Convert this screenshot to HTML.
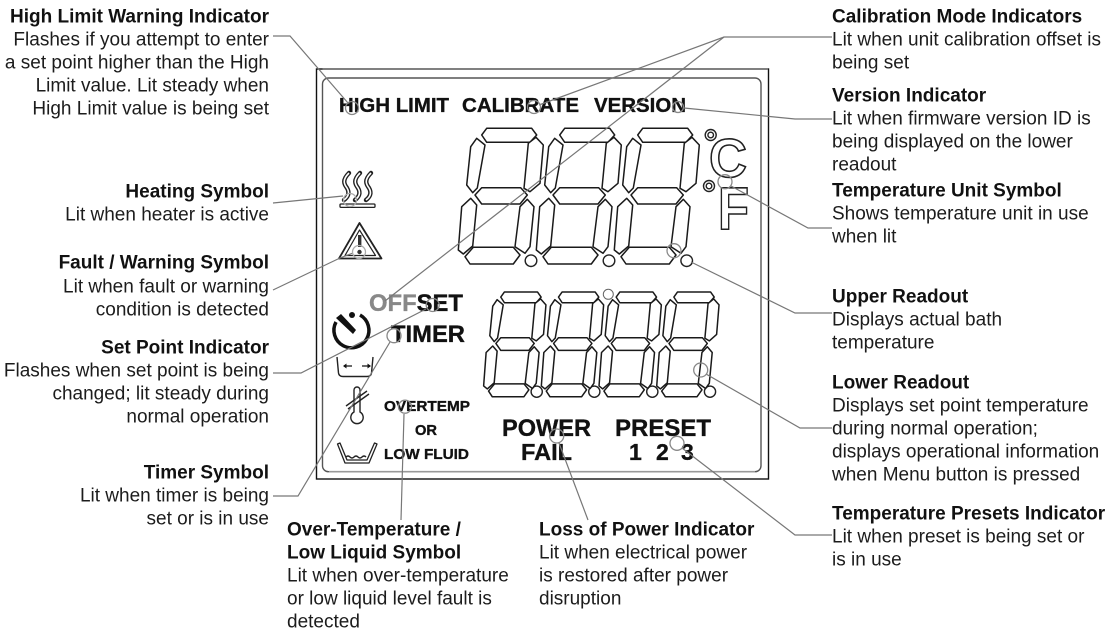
<!DOCTYPE html>
<html><head><meta charset="utf-8"><style>
html,body{margin:0;padding:0;background:#fff;width:1113px;height:633px;overflow:hidden}
svg{display:block}
.t{font:19px "Liberation Sans",Arial,sans-serif;fill:#1c1c1c}
.h{font:bold 19px "Liberation Sans",Arial,sans-serif;fill:#111}
.r{text-anchor:end}
.d{font-family:"Liberation Sans",Arial,sans-serif;font-weight:bold;fill:#111;stroke:#111;stroke-width:.35}
.seg polygon{fill:#fff;stroke:#1a1a1a;stroke-width:1.5;stroke-linejoin:round;vector-effect:non-scaling-stroke}
.l{fill:none;stroke:#777;stroke-width:1.2}
.c{fill:none;stroke:#888;stroke-width:1.3}
.i{fill:none;stroke:#222;stroke-width:1.4}
</style></head><body>
<svg width="1113" height="633" viewBox="0 0 1113 633" xmlns="http://www.w3.org/2000/svg">
<defs>
<g id="dg" class="seg">
<polygon points="481.7,135 486.7,128.3 531.7,128.3 536.7,135 530,142.3 486.7,142.3"/>
<polygon points="476.7,138.3 485,145 477.3,188 472.7,192.7 466.7,185 470.7,146.7"/>
<polygon points="536,137.3 543.3,145 540,183.3 530,191.7 524,188.3 528.3,143.3"/>
<polygon points="475,195 481.7,187.7 520.7,187.7 527.3,195 520,204 481.7,204"/>
<polygon points="470.7,198.3 476.7,205 472.7,246 463.3,254 458.3,250 461.7,206.7"/>
<polygon points="527.3,199.3 534,206.7 530,246.7 525,253.3 515,246.7 520,206.7"/>
<polygon points="465,256.7 473.3,247.3 513.3,247.3 520,255 513.3,264 470,264"/>
</g>
<path id="wave" d="M349 173c-7 7-5 11-2 15 3 5 1 9-3 12"/>
</defs>
<rect x="316.5" y="69" width="452" height="410" fill="none" stroke="#111" stroke-width="1.4"/>
<rect x="322.5" y="78" width="438.5" height="393.7" rx="6" fill="#fff" stroke="#555" stroke-width="1.4"/>
<path d="M322.5 69H768" stroke="#777" stroke-width="1.4"/>
<path d="M329 471.7H755" stroke="#999" stroke-width="1.6"/>

<!-- upper digits -->
<use href="#dg"/><use href="#dg" x="78"/><use href="#dg" x="156"/>
<g fill="#fff" stroke="#222" stroke-width="1.4">
<circle cx="531" cy="260.7" r="5.8"/><circle cx="609" cy="260.7" r="5.8"/><circle cx="686.7" cy="260.7" r="5.8"/>
<circle cx="536.7" cy="391.7" r="5.6"/><circle cx="594.3" cy="391.7" r="5.6"/><circle cx="652.3" cy="391.7" r="5.6"/><circle cx="710" cy="391.7" r="5.6"/>
<circle cx="710.7" cy="135" r="5.5"/><circle cx="710.7" cy="135" r="2.8"/>
<circle cx="709" cy="186" r="5.5"/><circle cx="709" cy="186" r="2.8"/>
</g>
<circle cx="608.3" cy="294.3" r="5" fill="#fff" stroke="#666" stroke-width="1"/>
<!-- lower digits -->
<g transform="translate(147.7 192.9) scale(.733 .772)"><use href="#dg"/></g>
<g transform="translate(205.4 192.9) scale(.733 .772)"><use href="#dg"/></g>
<g transform="translate(263.1 192.9) scale(.733 .772)"><use href="#dg"/></g>
<g transform="translate(320.8 192.9) scale(.733 .772)"><use href="#dg"/></g>

<!-- C F -->
<text x="709" y="177" font-family="Liberation Sans" font-weight="bold" font-size="55" fill="#fff" stroke="#222" stroke-width="1.6" textLength="38" lengthAdjust="spacingAndGlyphs">C</text>
<text x="718" y="229" font-family="Liberation Sans" font-weight="bold" font-size="60" fill="#fff" stroke="#222" stroke-width="1.6" textLength="31" lengthAdjust="spacingAndGlyphs">F</text>

<!-- display labels -->
<g class="d">
<text x="339" y="112" font-size="20" textLength="110" lengthAdjust="spacingAndGlyphs">HIGH LIMIT</text>
<text x="462" y="112" font-size="20" textLength="117" lengthAdjust="spacingAndGlyphs">CALIBRATE</text>
<text x="594" y="112" font-size="20" textLength="92" lengthAdjust="spacingAndGlyphs">VERSION</text>
<text x="369" y="311" font-size="24" textLength="94" lengthAdjust="spacingAndGlyphs"><tspan fill="#888" stroke="#888">OFF</tspan>SET</text>
<text x="391" y="342" font-size="24" textLength="74" lengthAdjust="spacingAndGlyphs">TIMER</text>
<text x="384" y="411" font-size="15" textLength="86" lengthAdjust="spacingAndGlyphs">OVERTEMP</text>
<text x="415" y="435" font-size="15" textLength="22" lengthAdjust="spacingAndGlyphs">OR</text>
<text x="384" y="459" font-size="15" textLength="85" lengthAdjust="spacingAndGlyphs">LOW FLUID</text>
<text x="502" y="436" font-size="24" textLength="89" lengthAdjust="spacingAndGlyphs">POWER</text>
<text x="521" y="460" font-size="23" textLength="51" lengthAdjust="spacingAndGlyphs">FAIL</text>
<text x="615" y="436" font-size="24" textLength="96" lengthAdjust="spacingAndGlyphs">PRESET</text>
<text x="629" y="460" font-size="23">1</text>
<text x="656" y="460" font-size="23">2</text>
<text x="681" y="460" font-size="23">3</text>
</g>

<!-- heat icon -->
<g fill="none" stroke="#222" stroke-width="4.4" stroke-linecap="round"><use href="#wave"/><use href="#wave" x="11"/><use href="#wave" x="22"/></g>
<g fill="none" stroke="#fff" stroke-width="1.6"><use href="#wave"/><use href="#wave" x="11"/><use href="#wave" x="22"/></g>
<rect x="340" y="204" width="35" height="3.4" rx="1" fill="#fff" stroke="#222" stroke-width="1.3"/>
<!-- triangle -->
<path d="M359.5 223L339 258.5H381.5Z" fill="#fff" stroke="#222" stroke-width="1.8" stroke-linejoin="round"/>
<path d="M359.5 230L345 255.5H375.5Z" fill="#fff" stroke="#222" stroke-width="1.2" stroke-linejoin="round"/>
<rect x="358" y="235" width="3.4" height="12" fill="#333"/>
<circle cx="359.5" cy="252" r="2.2" fill="#333"/>
<!-- timer icon -->
<path d="M360 315A17.5 17.5 0 1 1 336 322" fill="none" stroke="#111" stroke-width="3.5"/>
<path d="M336 318L341 314L356 330L353 334Z" fill="#111"/>
<circle cx="352" cy="315" r="3" fill="#111"/>
<!-- tub -->
<path d="M337 357L338.5 373Q339 376.5 343 376.5H367Q371 376.5 371.5 373L373 357" class="i" stroke-width="1.8"/>
<path d="M344 366h8M362 366h8" stroke="#111" stroke-width="1.2"/>
<path d="M343 366l3.5-2.5v5zM371 366l-3.5-2.5v5z" fill="#111"/>
<!-- thermometer -->
<path d="M354 390a3 3 0 0 1 6 0V412a6.2 6.2 0 1 1-6 0Z" fill="#fff" stroke="#222" stroke-width="1.4"/>
<path d="M346 406L367 391M348 409L369 394" stroke="#222" stroke-width="1.4"/>
<!-- bath -->
<path d="M337.5 444L345 463H369L377 444L374.5 443L367 460H347L340 443Z" fill="#fff" stroke="#222" stroke-width="1.3" stroke-linejoin="round"/>
<path d="M346 457q2-2 4 0t4 0 4 0 4 0 4 0" class="i" stroke-width="1.1"/>

<!-- leader lines -->
<g class="l">
<polyline points="273,36 290,36 348,103"/>
<polyline points="832,37 724,37 539,105"/>
<polyline points="724,37 385,301"/>
<polyline points="832,119 795,119 684,108"/>
<polyline points="273,203 343,196"/>
<polyline points="273,290 340,258 353,253"/>
<polyline points="273,373 301,373 426,309"/>
<polyline points="273,496 298,496 390,342"/>
<polyline points="401,520 404,414"/>
<polyline points="588,520 559,443"/>
<polyline points="832,535 795,535 682,448"/>
<polyline points="832,428 800,428 706,374"/>
<polyline points="832,313 795,313 691,262"/>
<polyline points="832,228 808,228 731,186"/>
</g>
<g class="c">
<circle cx="352" cy="108" r="6.5"/><circle cx="534" cy="107" r="6.5"/><circle cx="678" cy="107" r="5.5"/>
<circle cx="350" cy="200" r="6.5" stroke="#aaa"/><circle cx="359" cy="252" r="6.5" stroke="#aaa"/>
<circle cx="432.7" cy="305" r="6.5"/><circle cx="394" cy="335.7" r="7"/><circle cx="405" cy="406.7" r="6.5"/>
<circle cx="556.7" cy="436" r="7"/><circle cx="677" cy="443.3" r="7"/><circle cx="700.7" cy="370" r="7"/>
<circle cx="674" cy="250.7" r="7"/><circle cx="725" cy="181.7" r="7"/>
</g>

<g transform="translate(0 .7)">
<!-- left text -->
<text class="h r" x="269" y="22">High Limit Warning Indicator</text>
<text class="t r" x="269" y="45">Flashes if you attempt to enter</text>
<text class="t r" x="269" y="68">a set point higher than the High</text>
<text class="t r" x="269" y="91">Limit value. Lit steady when</text>
<text class="t r" x="269" y="114">High Limit value is being set</text>
<text class="h r" x="269" y="197">Heating Symbol</text>
<text class="t r" x="269" y="220">Lit when heater is active</text>
<text class="h r" x="269" y="268">Fault / Warning Symbol</text>
<text class="t r" x="269" y="292">Lit when fault or warning</text>
<text class="t r" x="269" y="315">condition is detected</text>
<text class="h r" x="269" y="353">Set Point Indicator</text>
<text class="t r" x="269" y="376">Flashes when set point is being</text>
<text class="t r" x="269" y="399">changed; lit steady during</text>
<text class="t r" x="269" y="422">normal operation</text>
<text class="h r" x="269" y="478">Timer Symbol</text>
<text class="t r" x="269" y="501">Lit when timer is being</text>
<text class="t r" x="269" y="524">set or is in use</text>
<!-- bottom text -->
<text class="h" x="287" y="535">Over-Temperature /</text>
<text class="h" x="287" y="558">Low Liquid Symbol</text>
<text class="t" x="287" y="581">Lit when over-temperature</text>
<text class="t" x="287" y="604">or low liquid level fault is</text>
<text class="t" x="287" y="627">detected</text>
<text class="h" x="539" y="535">Loss of Power Indicator</text>
<text class="t" x="539" y="558">Lit when electrical power</text>
<text class="t" x="539" y="581">is restored after power</text>
<text class="t" x="539" y="604">disruption</text>
<!-- right text -->
<text class="h" x="832" y="22">Calibration Mode Indicators</text>
<text class="t" x="832" y="45">Lit when unit calibration offset is</text>
<text class="t" x="832" y="68">being set</text>
<text class="h" x="832" y="101">Version Indicator</text>
<text class="t" x="832" y="124">Lit when firmware version ID is</text>
<text class="t" x="832" y="147">being displayed on the lower</text>
<text class="t" x="832" y="170">readout</text>
<text class="h" x="832" y="196">Temperature Unit Symbol</text>
<text class="t" x="832" y="219">Shows temperature unit in use</text>
<text class="t" x="832" y="242">when lit</text>
<text class="h" x="832" y="302">Upper Readout</text>
<text class="t" x="832" y="325">Displays actual bath</text>
<text class="t" x="832" y="348">temperature</text>
<text class="h" x="832" y="388">Lower Readout</text>
<text class="t" x="832" y="411">Displays set point temperature</text>
<text class="t" x="832" y="434">during normal operation;</text>
<text class="t" x="832" y="457">displays operational information</text>
<text class="t" x="832" y="480">when Menu button is pressed</text>
<text class="h" x="832" y="519">Temperature Presets Indicator</text>
<text class="t" x="832" y="542">Lit when preset is being set or</text>
<text class="t" x="832" y="565">is in use</text>
</g>
</svg>
</body></html>
